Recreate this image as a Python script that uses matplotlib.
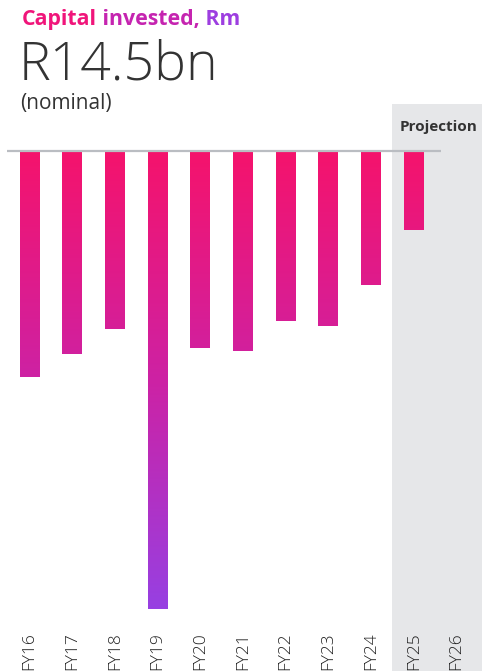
import numpy as np
import matplotlib
matplotlib.use("Agg")
import matplotlib.pyplot as plt
from matplotlib.colors import LinearSegmentedColormap
from matplotlib import font_manager
import matplotlib.transforms as mtransforms

plt.rcParams['font.family'] = ['Open Sans', 'DejaVu Sans']

# data (Rm)
years = ["FY16", "FY17", "FY18", "FY19", "FY20", "FY21", "FY22", "FY23", "FY24", "FY25", "FY26"]
capex = [1690, 1515, 1330, 3420, 1470, 1490, 1270, 1310, 1000, 590, 0]
projection_start = 9  # FY25 onwards

# light weight for the big figure, if the font has one
light = [f.weight for f in font_manager.fontManager.ttflist
         if f.name == "Open Sans" and isinstance(f.weight, int) and f.weight < 400]
big_weight = min(light) if light else "normal"

W, H = 482, 671
fig = plt.figure(figsize=(W / 100, H / 100), dpi=100)
ax = fig.add_axes([0, 0, 1, 1])

# pixel layout of the reference
x0_px, step_px = 29.5, 42.7
base_px, deep_px = 151, 609
per_px = max(capex) / (deep_px - base_px)

x = np.arange(len(years))
ax.axis("off")

# projection shading
ax.axvspan(projection_start - 0.5, len(years) + 1, ymin=0, ymax=(H - 104) / H,
           color="#e6e7e9", zorder=0, lw=0)
ax.text(projection_start - 0.5 + 7 / step_px, (base_px - 127) * per_px, "Projection",
        fontsize=11, fontweight="bold", color="#333333", va="center", ha="left")

# bars with vertical pink -> purple gradient
cmap = LinearSegmentedColormap.from_list("capex", ["#9740e2", "#cd22a4", "#f5136c"])
grad = np.linspace(0, 1, 256).reshape(-1, 1)
bars = ax.bar(x, [-v for v in capex], width=20 / step_px, color="none", lw=0, zorder=2)
for b in bars:
    if b.get_height() == 0:
        continue
    im = ax.imshow(grad, extent=[-1, len(years) + 1, -max(capex), 0], origin="lower",
                   aspect="auto", cmap=cmap, zorder=2)
    im.set_clip_path(b)
ax.set_xlim(-x0_px / step_px, (W - x0_px) / step_px)
ax.set_ylim(-(H - base_px) * per_px, base_px * per_px)

# baseline
ax.hlines(0, -22.5 / step_px, (441 - x0_px) / step_px, color="#babdc2", lw=1.6, zorder=3)

# tick labels
trans = mtransforms.blended_transform_factory(ax.transData, fig.transFigure)
for xi, lab in zip(x, years):
    ax.text(xi, 1 / H, lab, transform=trans, rotation=90, ha="center", va="bottom",
            fontsize=12.5, color="#222222", fontweight=big_weight)

# header
t1 = fig.text(22 / W, 1 - 25 / H, "Capital", fontsize=15.3, fontweight="bold",
              color="#f0157a", va="baseline")
t2 = ax.annotate(" invested,", xy=(1, 0), xycoords=t1, fontsize=15.3, fontweight="bold",
                 color="#c524b0", va="bottom", annotation_clip=False)
t3 = ax.annotate(" Rm", xy=(1, 0), xycoords=t2, fontsize=15.3, fontweight="bold",
                 color="#9d3ee0", va="bottom", annotation_clip=False)
fig.text(19 / W, 1 - 80 / H, "R14.5bn", fontsize=38.5, fontweight=big_weight,
         color="#333333", va="baseline")
fig.text(20 / W, 1 - 109 / H, "(nominal)", fontsize=15, color="#333333", va="baseline")

fig.savefig("out.png", dpi=100)
